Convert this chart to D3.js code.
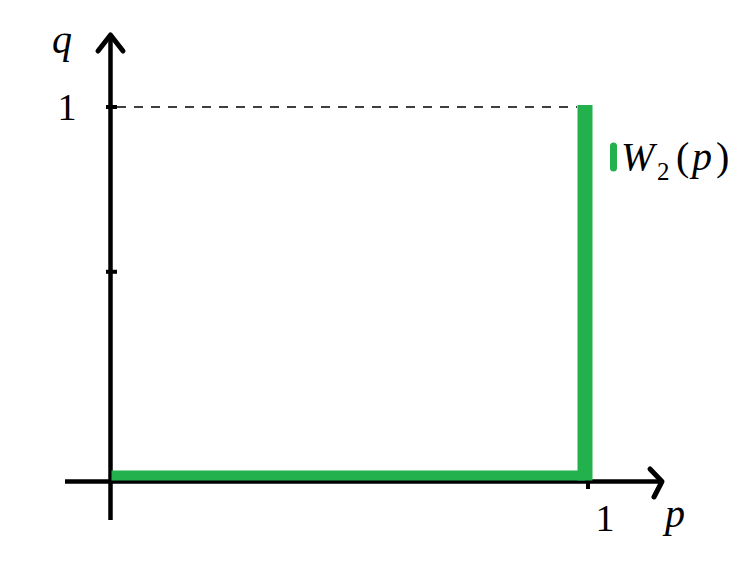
<!DOCTYPE html>
<html>
<head>
<meta charset="utf-8">
<script src="https://cdn.jsdelivr.net/npm/d3@7"></script>
<style>
  html, body { margin: 0; padding: 0; background: #fff; }
  svg { display: block; }
  text { font-family: "Liberation Serif", "DejaVu Serif", serif; fill: #000; }
</style>
</head>
<body>
<svg id="chart" width="745" height="587"></svg>
<script>
// ---- data ----
const seriesName = "W₂(p)";
const W2p = [0, 1, 1];          // p values of the step curve
const W2q = [0, 0, 1];          // q values of the step curve
const pTickValues = [1];
const pTickLabels = ["1"];
const qTickValues = [0.56, 1];
const qTickLabels = ["", "1"];
const guideP = [0, 1];           // dashed guide at q = 1
const guideQ = [1, 1];

// ---- layout ----
const svg = d3.select("#chart");
const x = d3.scaleLinear().domain([0, 1]).range([110.5, 585]);
const y = d3.scaleLinear().domain([0, 1]).range([481.5, 107]);
const green = "#22b14c";

// dashed guide line
svg.append("path")
  .datum(guideP.map((p, i) => [p, guideQ[i]]))
  .attr("d", d3.line().x((d, i) => i === 0 ? 117 : x(d[0]) - 8).y(d => y(d[1])))
  .attr("fill", "none").attr("stroke", "#000").attr("stroke-width", 1.5)
  .attr("stroke-dasharray", "9,8");

// axes lines
const axisW = 4.5;
svg.append("line").attr("x1", 65).attr("x2", 663).attr("y1", y(0)).attr("y2", y(0))
  .attr("stroke", "#000").attr("stroke-width", axisW);
svg.append("line").attr("x1", x(0)).attr("x2", x(0)).attr("y1", 520).attr("y2", 35)
  .attr("stroke", "#000").attr("stroke-width", axisW);

// arrowheads
svg.append("path").attr("d", `M650,469 L662,${y(0)} L654,497`)
  .attr("fill", "none").attr("stroke", "#000").attr("stroke-width", 5)
  .attr("stroke-linecap", "round").attr("stroke-linejoin", "round");
svg.append("path").attr("d", `M98,51 L${x(0)},35 L123,51`)
  .attr("fill", "none").attr("stroke", "#000").attr("stroke-width", 5)
  .attr("stroke-linecap", "round").attr("stroke-linejoin", "round");

// ticks
const qAxis = svg.append("g");
qAxis.selectAll("line").data(qTickValues).join("line")
  .attr("x1", 106).attr("x2", 117)
  .attr("y1", d => y(d)).attr("y2", d => y(d))
  .attr("stroke", "#000").attr("stroke-width", 4);
qAxis.selectAll("text").data(qTickValues).join("text")
  .attr("x", 67).attr("y", d => y(d) + 13)
  .attr("text-anchor", "middle").attr("font-size", 38)
  .text((d, i) => qTickLabels[i]);

const pAxis = svg.append("g");
pAxis.selectAll("line").data(pTickValues).join("line")
  .attr("x1", d => x(d) + 3).attr("x2", d => x(d) + 3)
  .attr("y1", y(0)).attr("y2", 489)
  .attr("stroke", "#000").attr("stroke-width", 4);
pAxis.selectAll("text").data(pTickValues).join("text")
  .attr("x", d => x(d) + 20).attr("y", 531)
  .attr("text-anchor", "middle").attr("font-size", 38)
  .text((d, i) => pTickLabels[i]);

// axis titles
svg.append("text").attr("x", 62).attr("y", 53).attr("text-anchor", "middle")
  .attr("font-size", 40).attr("font-style", "italic").text("q");
svg.append("text").attr("x", 675).attr("y", 527).attr("text-anchor", "middle")
  .attr("font-size", 40).attr("font-style", "italic").text("p");

// green step curve: horizontal part
const pts = W2p.map((p, i) => [p, W2q[i]]);
svg.append("line")
  .attr("x1", x(pts[0][0]) + 1).attr("x2", x(pts[1][0]))
  .attr("y1", y(pts[0][1]) - 6).attr("y2", y(pts[1][1]) - 6)
  .attr("stroke", green).attr("stroke-width", 10);
// vertical part
svg.append("line")
  .attr("x1", x(pts[1][0])).attr("x2", x(pts[2][0]))
  .attr("y1", y(pts[1][1]) - 1).attr("y2", y(pts[2][1]) - 2)
  .attr("stroke", green).attr("stroke-width", 15);

// legend
svg.append("line").attr("x1", 613.5).attr("x2", 613.5).attr("y1", 146).attr("y2", 168)
  .attr("stroke", green).attr("stroke-width", 7).attr("stroke-linecap", "round");
const leg = svg.append("text").attr("y", 170).attr("font-size", 40);
leg.append("tspan").attr("x", 621).attr("font-style", "italic").text("W");
leg.append("tspan").attr("x", 657).attr("font-size", 25).attr("dy", 10).text("2");
leg.append("tspan").attr("x", 676).attr("dy", -10).text("(");
leg.append("tspan").attr("x", 692).attr("font-style", "italic").text("p");
leg.append("tspan").attr("x", 716).text(")");
</script>
</body>
</html>
